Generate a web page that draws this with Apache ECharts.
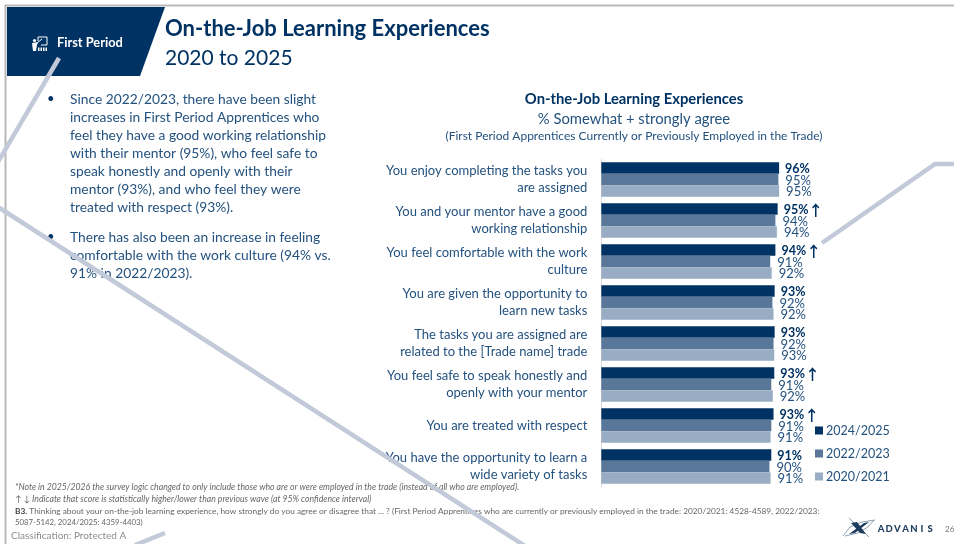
<!DOCTYPE html>
<html><head><meta charset="utf-8">
<style>html,body{margin:0;padding:0;background:#fff}#c{width:954px;height:544px}</style>
<script src="https://cdn.jsdelivr.net/npm/echarts@6/dist/echarts.min.js"></script>
</head><body><div id="c"></div>
<script>
const categories = [
 "You enjoy completing the tasks you\nare assigned",
 "You and your mentor have a good\nworking relationship",
 "You feel comfortable with the work\nculture",
 "You are given the opportunity to\nlearn new tasks",
 "The tasks you are assigned are\nrelated to the [Trade name] trade",
 "You feel safe to speak honestly and\nopenly with your mentor",
 "You are treated with respect",
 "You have the opportunity to learn a\nwide variety of tasks"
];
const seriesNames = ["2024/2025","2022/2023","2020/2021"];
const values2024 = [95.6,94.8,93.6,93.2,93.2,93.0,92.6,91.4];
const values2022 = [95.2,93.6,90.8,92.0,92.6,91.4,91.4,90.4];
const values2020 = [95.6,94.4,91.6,92.6,93.0,92.2,91.0,91.0];
const labels2024 = ["96%","95%","94%","93%","93%","93%","93%","91%"];
const labels2022 = ["95%","94%","91%","92%","92%","91%","91%","90%"];
const labels2020 = ["95%","94%","92%","92%","93%","92%","91%","91%"];
const arrowUp2024 = [false,true,true,false,false,true,true,false];
const bullet1 = ["Since 2022/2023, there have been slight","increases in First Period Apprentices who","feel they have a good working relationship","with their mentor (95%), who feel safe to","speak honestly and openly with their","mentor (93%), and who feel they were","treated with respect (93%)."];
const bullet2 = ["There has also been an increase in feeling","comfortable with the work culture (94% vs.","91% in 2022/2023)."];
const logoLetters = ["A","D","V","A","N","I","S"];
const FONT = "Lato";
const NAVY = "#003263", MID = "#587799", LIGHT = "#98acc3", TXT = "#24527f";
const barLabel = (arr) => ({
  show:true, position:"right", distance:7, offset:[0,1], color:TXT, fontFamily:FONT, fontSize:13, lineHeight:12,
  formatter: p => arr[p.dataIndex]
});
const mkText = (x,y,text,style) => ({type:"text",x,y,z:5,style:Object.assign({text,fontFamily:FONT,fill:TXT,verticalAlign:"middle"},style)});
const g = [];
// slide frame + header
g.push({type:"polyline",z:1,shape:{points:[[5.5,544],[5.5,5.5],[954,5.5]]},style:{stroke:"#b9b9b9",fill:null,lineWidth:2}});
g.push({type:"polygon",z:2,shape:{points:[[7,7],[165,7],[140,76],[7,76]]},style:{fill:NAVY}});
g.push(mkText(57,43,"First Period",{fill:"#fff",fontSize:12.8,fontWeight:"bold"}));
// presenter icon
g.push({type:"polyline",z:5,shape:{points:[[38,41],[38,37],[47,37],[47,45],[41,45]]},style:{fill:null,stroke:"#fff",lineWidth:1}});
g.push({type:"polyline",z:5,shape:{points:[[37,43],[42,39]]},style:{fill:null,stroke:"#fff",lineWidth:1}});
g.push({type:"circle",z:5,shape:{cx:34.5,cy:40.5,r:1.6},style:{fill:"#fff"}});
g.push({type:"polygon",z:5,shape:{points:[[32,43],[38,42],[37,45],[36,51],[33,51]]},style:{fill:"#fff"}});
[38,40.5,43,45.5].forEach(x=>g.push({type:"rect",z:5,shape:{x:x,y:47.5,width:1.5,height:3.5},style:{fill:"#fff"}}));
// bullets
bullet1.forEach((t,i)=>g.push(mkText(70,100+i*18,t,{fontSize:13.8})));
bullet2.forEach((t,i)=>g.push(mkText(70,238+i*18,t,{fontSize:13.8})));
g.push(mkText(47,99,"•",{fontSize:13,fill:NAVY}));
g.push(mkText(47,237,"•",{fontSize:13,fill:NAVY}));
// footnotes
const fn = {fontSize:8.7,fill:"#666",fontStyle:"italic"};
g.push(mkText(15,487,"*Note in 2025/2026 the survey logic changed to only include those who are or were employed in the trade (instead of all who are employed).",fn));
g.push(mkText(15,499,"↑ ↓ Indicate that score is statistically higher/lower than previous wave (at 95% confidence interval)",fn));
g.push({type:"text",x:15,y:511,z:5,style:{text:"{b|B3.} Thinking about your on-the-job learning experience, how strongly do you agree or disagree that ... ? (First Period Apprentices who are currently or previously employed in the trade: 2020/2021: 4528-4589, 2022/2023:",fontFamily:FONT,fontSize:8.3,fill:"#666",verticalAlign:"middle",rich:{b:{fontWeight:"bold",fontSize:8.3,fill:"#444",fontFamily:FONT}}}});
g.push(mkText(15,522,"5087-5142, 2024/2025: 4359-4403)",{fontSize:7.8,fill:"#666"}));
g.push(mkText(11,536,"Classification: Protected A",{fontSize:10,fill:"#8c8c8c"}));
// logo
g.push({type:"polyline",z:5,shape:{points:[[843,536],[850,527],[862,522],[875,520]]},style:{fill:null,stroke:"#8fa3b8",lineWidth:1,smooth:0.4}});
g.push({type:"polyline",z:5,shape:{points:[[845,536],[858,533],[868,527],[874,520]]},style:{fill:null,stroke:"#8fa3b8",lineWidth:1,smooth:0.4}});
g.push({type:"polyline",z:5,shape:{points:[[849,518],[869,537]]},style:{fill:null,stroke:"#8fa3b8",lineWidth:1}});
g.push({type:"polygon",z:5,shape:{points:[[851,523],[857,522],[866,534],[860,533]]},style:{fill:"#1d3c5e"}});
g.push({type:"polygon",z:5,shape:{points:[[849,534],[864,523],[869,522],[855,533]]},style:{fill:"#1d3c5e"}});
logoLetters.forEach((c,i)=>g.push(mkText(881+i*8.2,529,c,{fontSize:9.5,fontWeight:"900",fill:"#1d3c5e",align:"center"})));
g.push(mkText(945,529,"26",{fontSize:8,fill:"#777"}));
// decorative lines over everything
const deco = {stroke:"#c2c9d8",fill:null,lineWidth:4.5};
[[[59,58],[-2,162]],[[-2,207],[525,546]],[[822,243],[935,164],[956,164]],[[135,545],[165,533]]].forEach(p=>
  g.push({type:"polyline",z:50,shape:{points:p},style:deco}));

const option = {
  animation:false,
  backgroundColor:"#fff",
  title:[
    {text:"On-the-Job Learning Experiences",left:160,top:13,textStyle:{fontFamily:FONT,fontSize:22,fontWeight:"bold",color:NAVY}},
    {text:"2020 to 2025",left:160,top:43,textStyle:{fontFamily:FONT,fontSize:21,fontWeight:"normal",color:NAVY}},
    {text:"On-the-Job Learning Experiences",left:629,top:87,textAlign:"center",textStyle:{fontFamily:FONT,fontSize:14.8,fontWeight:"bold",color:NAVY}},
    {text:"% Somewhat + strongly agree",left:629,top:107,textAlign:"center",textStyle:{fontFamily:FONT,fontSize:14.8,fontWeight:"normal",color:TXT}},
    {text:"(First Period Apprentices Currently or Previously Employed in the Trade)",left:629,top:125,textAlign:"center",textStyle:{fontFamily:FONT,fontSize:12,fontWeight:"normal",color:TXT}}
  ],
  grid:{left:601.3,top:159,width:186,height:328,containLabel:false},
  xAxis:{type:"value",min:0,max:100,show:false},
  yAxis:{type:"category",inverse:true,data:categories,
    axisTick:{show:false},axisLine:{show:true,lineStyle:{color:"#d9d9d9",width:1}},splitLine:{show:false},
    axisLabel:{margin:14,color:TXT,fontFamily:FONT,fontSize:13,lineHeight:17,align:"right"}},
  legend:{orient:"vertical",left:810,top:419,itemWidth:8,itemHeight:8,itemGap:10,
    icon:"rect",data:seriesNames,textStyle:{fontFamily:FONT,fontSize:12.5,color:TXT,padding:[0,0,0,-2]}},
  series:[
    {name:seriesNames[0],type:"bar",data:values2024,barGap:0,barCategoryGap:"15.9%",itemStyle:{color:NAVY},
      label:{show:true,position:"right",distance:6,offset:[0,1],fontFamily:FONT,
        formatter:p=>"{v|"+labels2024[p.dataIndex]+"}"+(arrowUp2024[p.dataIndex]?"{u|↑}":""),
        rich:{v:{fontFamily:FONT,fontSize:12.5,fontWeight:"bold",color:NAVY},u:{fontFamily:"Noto Sans CJK SC",fontSize:15,fontWeight:"bold",color:NAVY}}}},
    {name:seriesNames[1],type:"bar",data:values2022,itemStyle:{color:MID},label:barLabel(labels2022)},
    {name:seriesNames[2],type:"bar",data:values2020,itemStyle:{color:LIGHT},label:barLabel(labels2020)}
  ],
  graphic:{elements:g}
};
echarts.init(document.getElementById("c"),null,{renderer:"canvas"}).setOption(option);
</script></body></html>
